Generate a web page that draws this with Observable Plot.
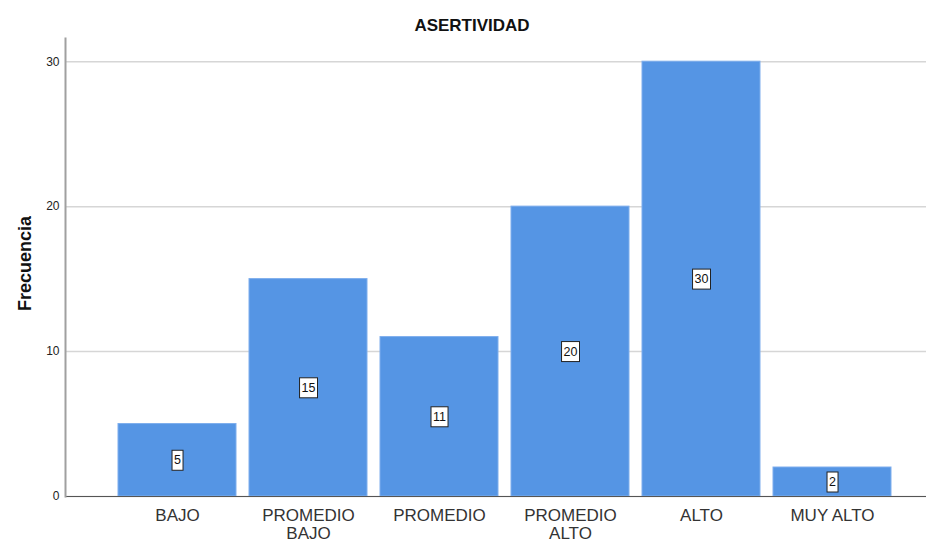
<!DOCTYPE html>
<html>
<head>
<meta charset="utf-8">
<script src="https://cdn.jsdelivr.net/npm/d3@7"></script>
<script src="https://cdn.jsdelivr.net/npm/@observablehq/plot@0.6"></script>
<style>
  html, body { margin: 0; padding: 0; background: #fff; }
  #chart { width: 928px; height: 543px; }
  svg { font-family: "Liberation Sans", Arial, sans-serif; }
</style>
</head>
<body>
<div id="chart"></div>
<script>
const title = "ASERTIVIDAD";
const yLabel = "Frecuencia";
const categories = ["BAJO", "PROMEDIO BAJO", "PROMEDIO", "PROMEDIO ALTO", "ALTO", "MUY ALTO"];
const axisLabels = ["BAJO", "PROMEDIO\nBAJO", "PROMEDIO", "PROMEDIO\nALTO", "ALTO", "MUY ALTO"];
const frequencies = [5, 15, 11, 20, 30, 2];
const yTicks = [0, 10, 20, 30];

const data = categories.map((c, i) => ({category: c, value: frequencies[i], label: axisLabels[i]}));
const labelOf = new Map(data.map(d => [d.category, d.label]));

const plot = Plot.plot({
  width: 928,
  height: 543,
  marginLeft: 65,
  marginRight: 2,
  marginTop: 38,
  marginBottom: 47,
  style: {fontFamily: '"Liberation Sans", Arial, sans-serif', background: "#fff"},
  x: {type: "band", domain: categories, paddingInner: 0.1, paddingOuter: 0.32, align: 0.6, label: null},
  y: {domain: [0, 31.6], label: null},
  marks: [
    Plot.gridY(yTicks, {stroke: "#d6d6d6", strokeOpacity: 1, strokeWidth: 1.5}),
    Plot.barY(data, {x: "category", y: "value", fill: "#5595e4", stroke: "#7eaeed", strokeWidth: 1}),
    Plot.ruleY([0], {stroke: "#555", strokeWidth: 1}),
    Plot.frame({anchor: "left", stroke: "#a0a0a0", strokeWidth: 2}),
    Plot.axisY(yTicks, {tickSize: 0, tickPadding: 6, fontSize: 12, fill: "#222", label: null}),
    Plot.axisX({tickSize: 0, tickPadding: 12, fontSize: 17, fill: "#333", lineHeight: 1.06, tickFormat: d => labelOf.get(d), label: null}),
    Plot.text(data, {x: "category", y: d => d.value / 2, text: d => String(d.value), fontSize: 12.5, fill: "#111", ariaDescription: "value-labels"}),
    Plot.text([title], {frameAnchor: "top", dx: -24, dy: -8, lineAnchor: "bottom", fontSize: 17, fontWeight: "bold", fill: "#111"}),
    Plot.text([yLabel], {frameAnchor: "left", textAnchor: "middle", dx: -40, dy: -4, rotate: -90, fontSize: 18, fontWeight: "bold", fill: "#111"})
  ]
});

document.getElementById("chart").appendChild(plot);

// white boxes behind value labels
let g = plot.querySelector('g[aria-description="value-labels"]');
if (!g) {
  const texts = Array.from(plot.querySelectorAll("text")).filter(t => frequencies.map(String).includes(t.textContent) && !t.closest('g[aria-label*="axis"]'));
  g = texts.length ? texts[0].parentNode : null;
}
if (g) {
  g.querySelectorAll("text").forEach(t => {
    const bb = t.getBBox();
    const r = document.createElementNS("http://www.w3.org/2000/svg", "rect");
    r.setAttribute("x", bb.x - 2);
    r.setAttribute("y", bb.y - 3);
    r.setAttribute("width", bb.width + 4);
    r.setAttribute("height", bb.height + 6);
    r.setAttribute("fill", "#fff");
    r.setAttribute("stroke", "#222");
    r.setAttribute("stroke-width", 1);
    const tr = t.getAttribute("transform");
    if (tr) r.setAttribute("transform", tr);
    t.parentNode.insertBefore(r, t);
  });
}
</script>
</body>
</html>
